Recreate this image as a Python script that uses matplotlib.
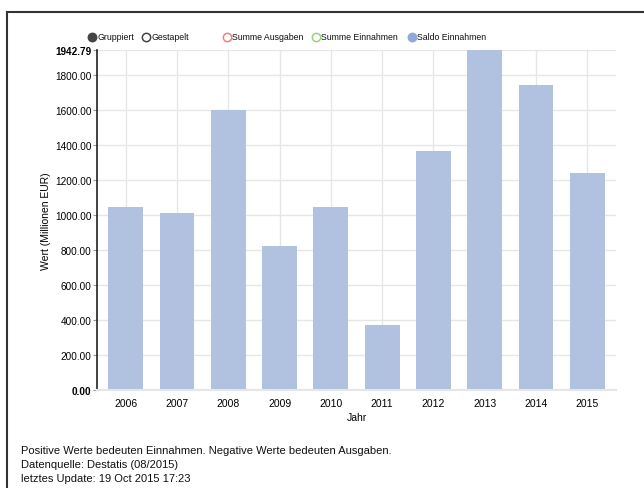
import matplotlib
matplotlib.use("Agg")
import matplotlib.pyplot as plt
from matplotlib.lines import Line2D
import numpy as np

plt.rcParams['font.family'] = ['Liberation Sans', 'DejaVu Sans']

years = ["2006", "2007", "2008", "2009", "2010", "2011", "2012", "2013", "2014", "2015"]
saldo = [1046, 1011, 1600, 823, 1046, 371, 1366, 1942.79, 1743, 1240]
yticks = [0, 200, 400, 600, 800, 1000, 1200, 1400, 1600, 1800, 1942.79]
legend_labels = ["Gruppiert", "Gestapelt", "Summe Ausgaben", "Summe Einnahmen", "Saldo Einnahmen"]
footer = ["Positive Werte bedeuten Einnahmen. Negative Werte bedeuten Ausgaben.",
          "Datenquelle: Destatis (08/2015)",
          "letztes Update: 19 Oct 2015 17:23"]

W, H = 644, 489
fig = plt.figure(figsize=(W/100, H/100), dpi=100)
fig.patch.set_facecolor('white')

left, right, top, bottom = 97, 616, 51, 391
ax = fig.add_axes([left/W, 1-bottom/H, (right-left)/W, (bottom-top)/H])

x = np.arange(len(years))
ax.bar(x, saldo, width=0.68, color='#b0c2e0', zorder=2)
ax.set_xlim(-0.56, 9.56)
ax.set_ylim(0, max(yticks))
ax.set_xticks(x)
ax.set_xticklabels(years, fontsize=7.5)
ax.set_yticks(yticks)
ax.set_yticklabels(["%.2f" % v for v in yticks], fontsize=7.2)
for lbl in ax.get_yticklabels():
    if lbl.get_text() in ("0.00", "1942.79"):
        lbl.set_fontweight('bold')
ax.grid(True, color='#e6e6e6', linewidth=1, zorder=0)
ax.set_axisbelow(True)
for s in ['top', 'right']:
    ax.spines[s].set_visible(False)
ax.spines['left'].set_color('#222222')
ax.spines['left'].set_linewidth(1.2)
ax.spines['bottom'].set_color('#e6e6e6')
ax.spines['bottom'].set_linewidth(1.5)
ax.tick_params(axis='y', length=3, width=0.8, color='#999999', pad=1)
ax.tick_params(axis='x', length=0, pad=6)
ax.set_xlabel("Jahr", fontsize=7.5, labelpad=3)
ax.set_ylabel("Wert (Millionen EUR)", fontsize=7.5, labelpad=3)

leg_y = 1 - 38/H
items = [(92, '#444444', '#444444', legend_labels[0]),
         (146, '#444444', 'none', legend_labels[1]),
         (227, '#f08080', 'none', legend_labels[2]),
         (316, '#99d47a', 'none', legend_labels[3]),
         (412, '#90a8dc', '#90a8dc', legend_labels[4])]
for px, ec, fc, lab in items:
    fig.add_artist(Line2D([px/W], [leg_y], marker='o', markersize=6,
                          markeredgecolor=ec, markerfacecolor=fc,
                          markeredgewidth=1.1, linestyle='none'))
    fig.text((px+5)/W, leg_y, lab, fontsize=6.3, va='center', ha='left', color='#111111')

for i, line in enumerate(footer):
    fig.text(21/W, 1-(451+14*i)/H, line, fontsize=8.0, va='center', ha='left', color='#111111')

fig.add_artist(Line2D([7/W, 1], [1-13/H, 1-13/H], color='#333333', linewidth=1.5))
fig.add_artist(Line2D([7/W, 7/W], [0, 1-13/H], color='#333333', linewidth=1.5))

fig.savefig("out.png", dpi=100)
